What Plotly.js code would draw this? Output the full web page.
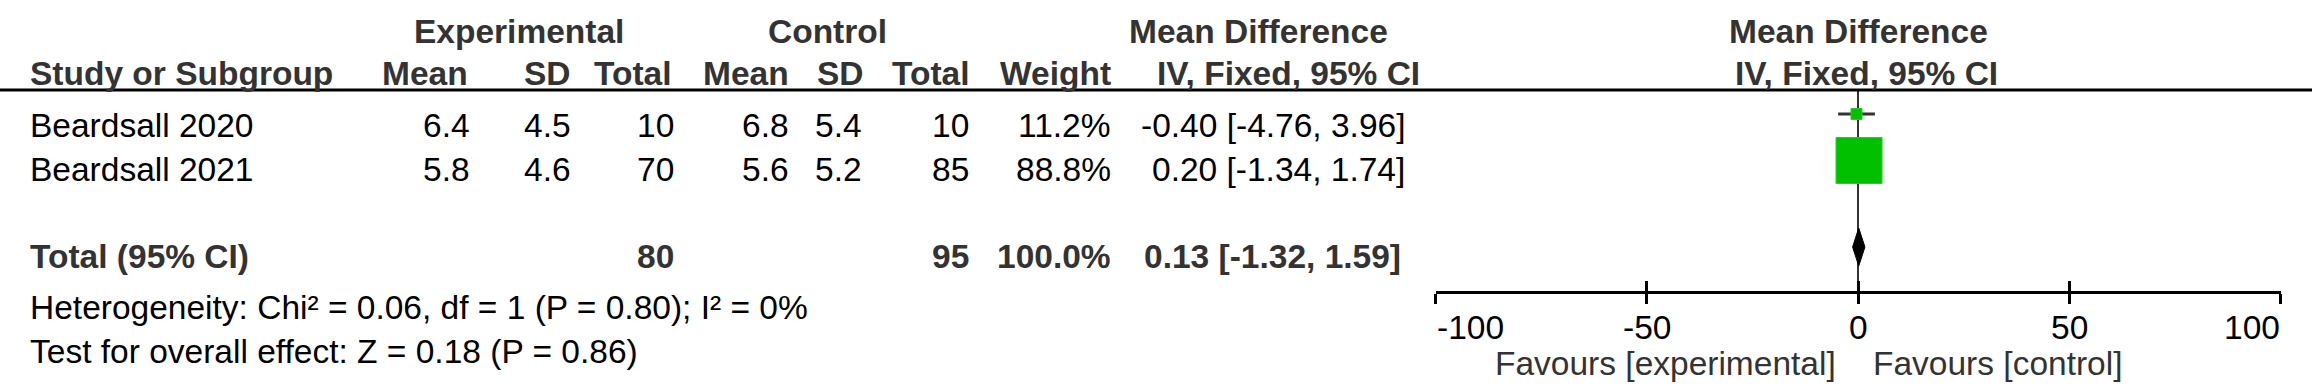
<!DOCTYPE html>
<html><head><meta charset="utf-8">
<script src="https://cdn.plot.ly/plotly-3.0.1.min.js"></script>
<style>html,body{margin:0;padding:0;background:#fff;}#chart{width:2312px;height:391px;}</style>
</head><body><div id="chart"></div>
<script>
// ================= DATA =================
const studies   = ["Beardsall 2020", "Beardsall 2021"];
const expMean   = [6.4, 5.8];
const expSD     = [4.5, 4.6];
const expTotal  = [10, 70];
const ctlMean   = [6.8, 5.6];
const ctlSD     = [5.4, 5.2];
const ctlTotal  = [10, 85];
const weights   = [11.2, 88.8];
const md        = [-0.40, 0.20];
const ciLow     = [-4.76, -1.34];
const ciHigh    = [3.96, 1.74];

const totalLabel  = "Total (95% CI)";
const totalExp    = 80;
const totalCtl    = 95;
const totalWeight = 100.0;
const pooledMD    = 0.13;
const pooledLow   = -1.32;
const pooledHigh  = 1.59;

const heterogeneityText = "Heterogeneity: Chi² = 0.06, df = 1 (P = 0.80); I² = 0%";
const overallText       = "Test for overall effect: Z = 0.18 (P = 0.86)";

const groupHeaders  = ["Experimental", "Control", "Mean Difference", "Mean Difference"];
const columnHeaders = ["Study or Subgroup", "Mean", "SD", "Total", "Mean", "SD", "Total", "Weight", "IV, Fixed, 95% CI", "IV, Fixed, 95% CI"];

const tickVals   = [-100, -50, 0, 50, 100];
const tickLabels = ["-100", "-50", "0", "50", "100"];
const favoursLeft  = "Favours [experimental]";
const favoursRight = "Favours [control]";

// ================= LAYOUT / STYLE CONSTANTS =================
const W = 2312, H = 391;
const FONT = "Liberation Sans, Arial, Helvetica, sans-serif";
const FS = 33.5;
const HEAD_COLOR = "#333333";
const TEXT_COLOR = "#000000";
const GREEN = "#00C000";

const HEADER_LINE_Y = 90;
const AXIS_Y = 291.2;          // bottom of plot domain (px from top)
const PLOT_X0 = 1435.7, PLOT_X1 = 2280.7;

const markerY   = [114, 160.5];
const squareSize = [11, 46];
const diamondY = 247, diamondHalf = 19;

const textRowY = [125.5, 169];
const totalY = 256, hetY = 307, testY = 351;
const head0Y = 31, head1Y = 73;
const tickLabelY = 327, favoursY = 363;

const LEFT_X = 29;
const colRight   = [null, 471, 572, 675, 790, 863, 970, 1112, 1406];
const headRight  = [null, 469, 572, 673, 790, 865, 971, 1112, 1421];
const groupCenter = [518.5, 827, 1258, 1858];
const rightHeadCenter = 1866;
const totalCIRight = 1402;
const favLeftRight = 1837, favRightLeft = 1872;

// ================= HELPERS =================
function ann(text, xpx, ypx, anchor, opts) {
  opts = opts || {};
  return {
    text: opts.bold ? "<b>" + text + "</b>" : text,
    x: xpx / W, y: 1 - ypx / H, xref: "paper", yref: "paper",
    xanchor: anchor, yanchor: "middle", showarrow: false,
    font: {family: FONT, size: FS, color: opts.color || TEXT_COLOR},
    borderpad: 0
  };
}
const f1 = v => v.toFixed(1);
const f2 = v => v.toFixed(2);
const ciStr = (m, l, h) => f2(m) + " [" + f2(l) + ", " + f2(h) + "]";

const annotations = [];
// group headers
groupHeaders.forEach((g, i) => annotations.push(ann(g, groupCenter[i], head0Y, "center", {bold: true, color: HEAD_COLOR})));
// column headers
annotations.push(ann(columnHeaders[0], LEFT_X, head1Y, "left", {bold: true, color: HEAD_COLOR}));
for (let c = 1; c <= 8; c++) {
  annotations.push(ann(columnHeaders[c], headRight[c], head1Y, "right", {bold: true, color: HEAD_COLOR}));
}
annotations.push(ann(columnHeaders[9], rightHeadCenter, head1Y, "center", {bold: true, color: HEAD_COLOR}));

// study rows
studies.forEach((s, i) => {
  const y = textRowY[i];
  annotations.push(ann(s, LEFT_X, y, "left"));
  const cells = [f1(expMean[i]), f1(expSD[i]), String(expTotal[i]),
                 f1(ctlMean[i]), f1(ctlSD[i]), String(ctlTotal[i]),
                 f1(weights[i]) + "%", ciStr(md[i], ciLow[i], ciHigh[i])];
  cells.forEach((t, k) => annotations.push(ann(t, colRight[k + 1], y, "right")));
});

// total row
annotations.push(ann(totalLabel, LEFT_X, totalY, "left", {bold: true, color: HEAD_COLOR}));
annotations.push(ann(String(totalExp), colRight[3], totalY, "right", {bold: true, color: HEAD_COLOR}));
annotations.push(ann(String(totalCtl), colRight[6], totalY, "right", {bold: true, color: HEAD_COLOR}));
annotations.push(ann(f1(totalWeight) + "%", colRight[7], totalY, "right", {bold: true, color: HEAD_COLOR}));
annotations.push(ann(ciStr(pooledMD, pooledLow, pooledHigh), totalCIRight, totalY, "right", {bold: true, color: HEAD_COLOR}));

// footer
annotations.push(ann(heterogeneityText, LEFT_X, hetY, "left"));
annotations.push(ann(overallText, LEFT_X, testY, "left"));

// tick labels (data x)
tickVals.forEach((v, i) => {
  const anchor = i === 0 ? "left" : (i === tickVals.length - 1 ? "right" : "center");
  annotations.push({
    text: tickLabels[i], x: v, xref: "x", y: 1 - tickLabelY / H, yref: "paper",
    xanchor: anchor, yanchor: "middle", showarrow: false, borderpad: 0,
    font: {family: FONT, size: FS, color: TEXT_COLOR}
  });
});
annotations.push(ann(favoursLeft, favLeftRight, favoursY, "right", {color: "#333333"}));
annotations.push(ann(favoursRight, favRightLeft, favoursY, "left", {color: "#333333"}));

// ================= TRACES =================
const ciX = [], ciY = [];
studies.forEach((s, i) => { ciX.push(ciLow[i], ciHigh[i], null); ciY.push(markerY[i], markerY[i], null); });

const traces = [
  {x: ciX, y: ciY, mode: "lines", line: {color: "#333333", width: 3}, hoverinfo: "skip", showlegend: false},
  {x: md, y: markerY, mode: "markers", showlegend: false,
   marker: {symbol: "square", size: squareSize, color: GREEN, opacity: 1, line: {color: "#22d022", width: 1}}},
  {x: [pooledLow, pooledMD, pooledHigh, pooledMD, pooledLow],
   y: [diamondY, diamondY - diamondHalf, diamondY, diamondY + diamondHalf, diamondY],
   xaxis: "x2", mode: "lines", fill: "toself", fillcolor: "#000000", line: {color: "#000000", width: 1}, showlegend: false}
];

const axisCommon = {
  range: [-100, 100], domain: [PLOT_X0 / W, PLOT_X1 / W], showgrid: false, showticklabels: false,
  tickmode: "array", tickvals: tickVals, ticklen: 10, tickwidth: 3, tickcolor: "#000000", fixedrange: true
};

const layout = {
  width: W, height: H,
  margin: {l: 0, r: 0, t: 0, b: 0, pad: 0},
  paper_bgcolor: "#ffffff", plot_bgcolor: "rgba(0,0,0,0)",
  showlegend: false,
  xaxis: Object.assign({}, axisCommon, {showline: true, linecolor: "#000000", linewidth: 3, ticks: "outside",
          zeroline: true, zerolinecolor: "#333333", zerolinewidth: 2}),
  xaxis2: Object.assign({}, axisCommon, {overlaying: "x", anchor: "y", side: "bottom", showline: false,
          ticks: "inside", zeroline: false}),
  yaxis: {range: [AXIS_Y, HEADER_LINE_Y], domain: [1 - AXIS_Y / H, 1 - HEADER_LINE_Y / H], autorange: false,
          showline: false, zeroline: false, showgrid: false, showticklabels: false, ticks: "", fixedrange: true},
  shapes: [{type: "line", xref: "paper", yref: "paper", x0: 0, x1: 1, y0: 1 - HEADER_LINE_Y / H, y1: 1 - HEADER_LINE_Y / H,
            line: {color: "#000000", width: 3}}],
  annotations: annotations
};

Plotly.newPlot("chart", traces, layout, {displayModeBar: false, staticPlot: true});
</script>
</body></html>
